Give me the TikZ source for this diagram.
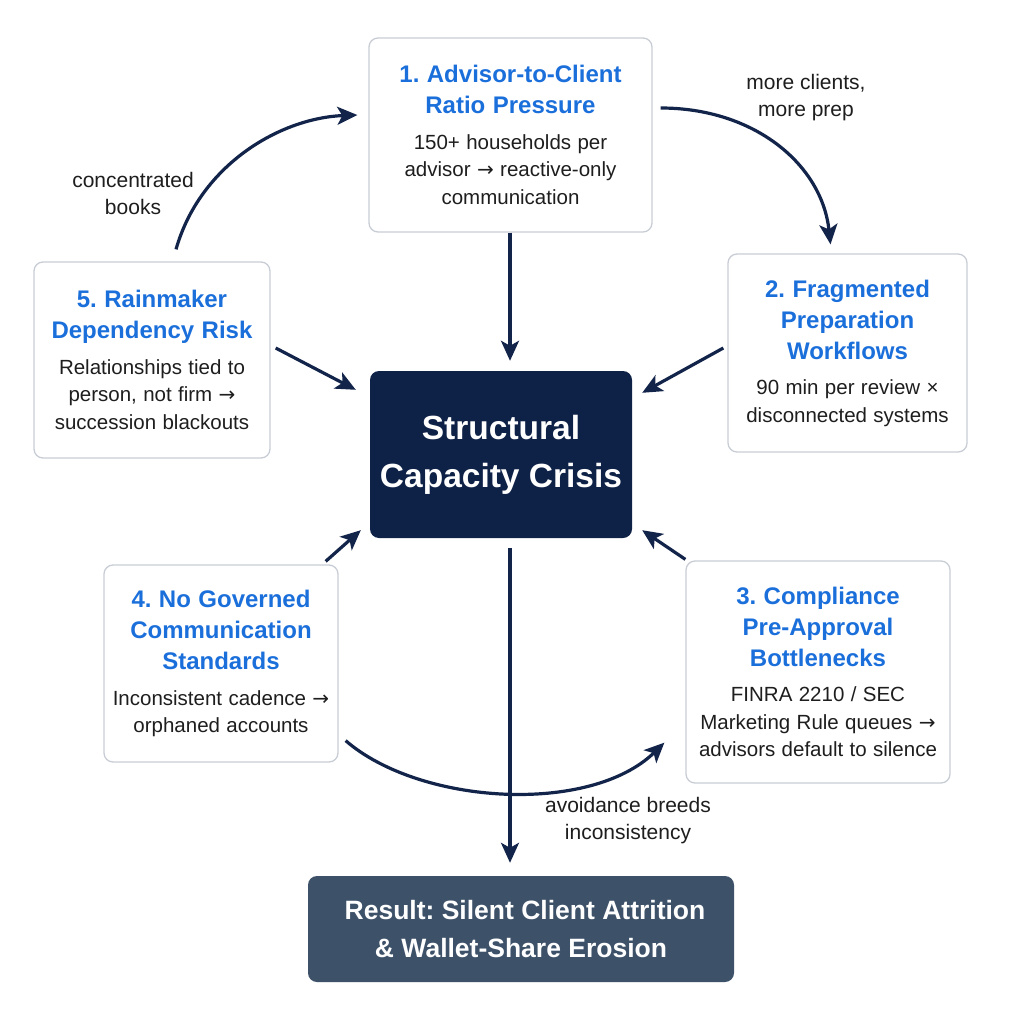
\documentclass[tikz,border=0pt]{standalone}
\usepackage{fontspec}
\setmainfont{Liberation Sans}
\newfontfamily\symfont{DejaVu Sans}
\usetikzlibrary{arrows.meta,calc}
\frenchspacing
\definecolor{navy}{HTML}{0E2146}
\definecolor{arrowc}{HTML}{13244A}
\definecolor{titleblue}{HTML}{1B6FDB}
\definecolor{slate}{HTML}{3D5169}
\definecolor{cardline}{HTML}{C8CDD5}
\definecolor{bodytext}{HTML}{1E1E1E}
\newcommand{\rarr}{{\symfont\fontsize{20}{28}\selectfont →}}
\newcommand{\fixspace}{\spaceskip=1.12\fontdimen2\font\relax\xspaceskip=\spaceskip}
\newcommand{\cardtitle}[1]{{\fontsize{24}{31}\selectfont\bfseries\fixspace\color{titleblue}#1\par}\vspace{8pt}}
\newcommand{\cardbody}[1]{{\fontsize{20.5}{27.5}\selectfont\fixspace\color{bodytext}#1\par}}
\begin{document}
\begin{tikzpicture}[x=1pt,y=-1pt,
  card/.style={draw=cardline, line width=1.3pt, fill=white, rounded corners=9pt,
    inner sep=0pt, align=center},
  conn/.style={draw=arrowc, line width=3.2pt,
    -{Stealth[length=20pt,width=18pt,inset=5pt]}},
  lbl/.style={font=\fontsize{21}{27}\selectfont, text=bodytext, align=center, inner sep=0pt}
]
\useasboundingbox[fill=white] (0,0) rectangle (1024,1024);

% cards
\node[card, minimum width=283pt, minimum height=194pt, text width=275pt] (b1) at (510.5,135)
  {\cardtitle{1. Advisor-to-Client\\Ratio Pressure}\cardbody{150+ households per\\advisor \rarr{} reactive-only\\communication}};
\node[card, minimum width=239pt, minimum height=198pt, text width=235pt] (b2) at (847.5,353)
  {\cardtitle{2. Fragmented\\Preparation\\Workflows}\cardbody{90 min per review ×\\disconnected systems}};
\node[card, minimum width=264pt, minimum height=222pt, text width=260pt] (b3) at (818,672)
  {\cardtitle{3. Compliance\\Pre-Approval\\Bottlenecks}\cardbody{FINRA 2210 / SEC\\Marketing Rule queues \rarr\\advisors default to silence}};
\node[card, minimum width=234pt, minimum height=197pt, text width=230pt] (b4) at (221,663.5)
  {\cardtitle{4. No Governed\\Communication\\Standards}\cardbody{Inconsistent cadence \rarr\\orphaned accounts}};
\node[card, minimum width=236pt, minimum height=196pt, text width=232pt] (b5) at (152,360)
  {\cardtitle{5. Rainmaker\\Dependency Risk}\cardbody{Relationships tied to\\person, not firm \rarr\\succession blackouts}};

% center
\node[fill=navy, rounded corners=9pt, minimum width=262pt, minimum height=167pt, inner sep=0pt,
  text=white, align=center, font=\fontsize{33.5}{48}\selectfont\bfseries] (c) at (501,454.5)
  {Structural\\Capacity Crisis};

% result
\node[fill=slate, rounded corners=9pt, minimum width=426pt, minimum height=106pt, inner sep=0pt,
  text=white, align=center, font=\fontsize{26.5}{38}\selectfont\bfseries] (res) at (521,929)
  {\hspace*{8pt}Result: Silent Client Attrition\\\& Wallet-Share Erosion};

% straight connectors
\coordinate (c1s) at ($(b1.south)+(-0.5,0)$);
\coordinate (c1e) at ($(c.north)+(9,-10)$);
\draw[conn] (c1s) -- (c1e);
\coordinate (c5s) at ($(b5.east)+(5,-12)$);
\coordinate (c5e) at ($(c.north west)+(-14,19)$);
\draw[conn] (c5s) -- (c5e);
\coordinate (c2s) at ($(b2.west)+(-4,-5)$);
\coordinate (c2e) at ($(c.north east)+(10,22)$);
\draw[conn] (c2s) -- (c2e);
\coordinate (c4s) at ($(b4.north east)+(-13,-3)$);
\coordinate (c4e) at ($(c.south west)+(-9,-8)$);
\draw[conn] (c4s) -- (c4e);
\coordinate (c3s) at ($(b3.north west)+(0,-1)$);
\coordinate (c3e) at ($(c.south east)+(10,-8)$);
\draw[conn] (c3s) -- (c3e);
\coordinate (crs) at ($(c.south)+(9,10)$);
\coordinate (cre) at ($(res.north)+(-11,-13)$);
\draw[conn] (crs) -- (cre);

% curved connectors
\coordinate (k5s) at ($(b5.north)+(24,-12)$);
\coordinate (k5e) at ($(b1.west)+(-11,-20)$);
\draw[conn] (k5s) .. controls (200,165) and (280,118) .. (k5e);
\coordinate (k1s) at ($(b1.east)+(8,-27)$);
\coordinate (k1e) at ($(b2.north)+(-17,-9)$);
\draw[conn] (k1s) .. controls (755,108) and (822,165) .. (k1e);
\coordinate (k4s) at ($(b4.south east)+(7,-22)$);
\coordinate (k4e) at ($(b3.south west)+(-21,-41)$);
\draw[conn] (k4s) .. controls (420,805) and (590,815) .. (k4e);

% labels
\node[lbl] (l1) at (133,193) {concentrated\\books};
\node[lbl] (l2) at (806,98) {more clients,\\more prep};
\node[lbl] (l3) at (628,821) {avoidance breeds\\inconsistency};
\end{tikzpicture}
\end{document}
